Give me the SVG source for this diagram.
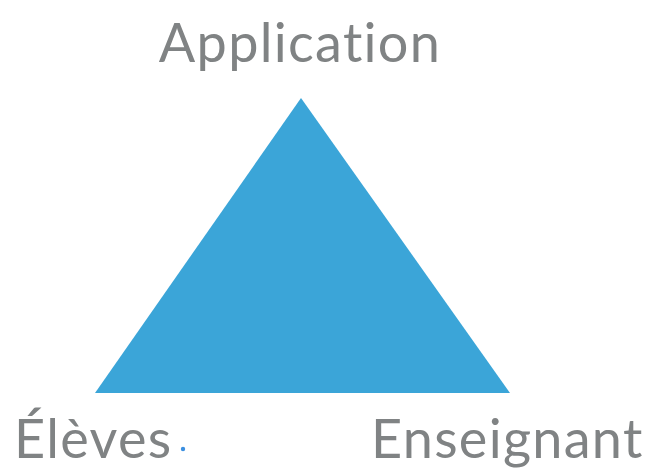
<svg xmlns="http://www.w3.org/2000/svg" width="656" height="469" viewBox="0 0 656 469">
<style>
.lbl{font-family:Lato,"Open Sans",sans-serif;font-size:54px;fill:#808384;font-variant-ligatures:none;letter-spacing:1.3px}
</style>
<rect width="656" height="469" fill="#ffffff"/>
<g id="triangle"><polygon points="301,98 95,393 510,393" fill="#3BA5D8"/></g>
<g id="application"><text class="lbl" x="300" y="62" text-anchor="middle" font-size="55">Application</text></g>
<g id="eleves"><text class="lbl" x="14" y="458" letter-spacing="0.8">Élèves</text><circle cx="183" cy="449" r="2.2" fill="#3B8FE0"/></g>
<g id="enseignant"><text class="lbl" x="371" y="458">Enseignant</text></g>
<g id="connectors"></g>
</svg>
